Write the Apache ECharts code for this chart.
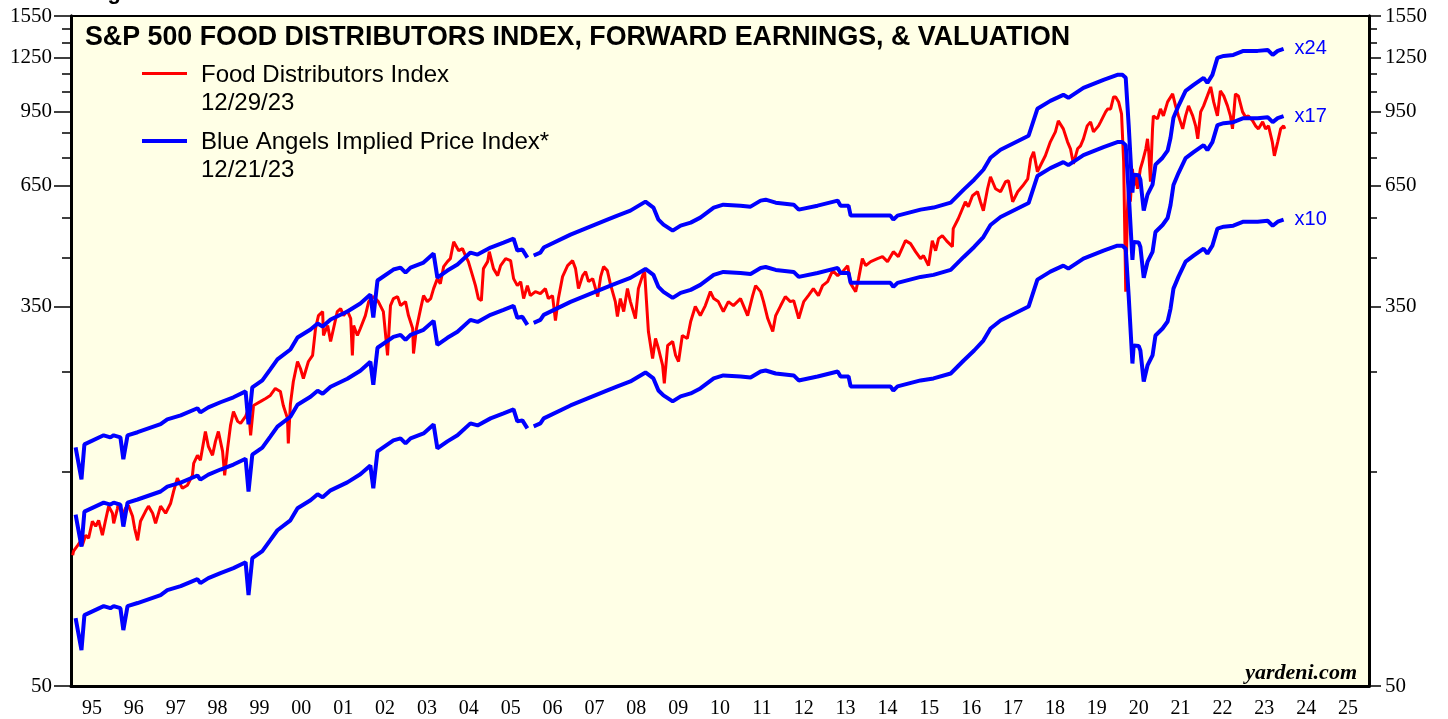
<!DOCTYPE html>
<html>
<head>
<meta charset="utf-8">
<title>S&amp;P 500 Food Distributors Index</title>
<script src="https://cdn.jsdelivr.net/npm/echarts@6/dist/echarts.min.js"></script>
<style>
  html, body { margin: 0; padding: 0; background: #fff; }
  #chart { width: 1448px; height: 719px; }
</style>
</head>
<body>
<div id="chart"></div>
<script>
// Food Distributors Index (dates as fractional years)
var priceDates = [
  1995.04,1995.06,1995.16,1995.23,1995.27,1995.35,1995.42,1995.51,1995.59,1995.66,1995.75,1995.82,1995.90,1995.99,
  1996.02,1996.11,1996.13,1996.23,1996.30,1996.37,1996.47,1996.52,1996.59,1996.66,1996.78,1996.85,1996.95,
  1997.02,1997.14,1997.26,1997.38,1997.45,1997.54,1997.66,1997.78,1997.90,1997.93,
  1998.02,1998.09,1998.21,1998.28,1998.38,1998.45,1998.52,1998.62,1998.67,1998.74,1998.81,1998.88,1998.98,
  1999.05,1999.17,1999.24,1999.29,1999.36,1999.53,1999.65,1999.76,1999.88,
  2000.00,2000.07,2000.17,2000.19,2000.24,2000.31,2000.41,2000.48,2000.55,2000.67,2000.77,2000.84,2000.91,
  2001.01,2001.03,2001.13,2001.20,2001.27,2001.36,2001.44,2001.51,2001.60,2001.68,2001.72,2001.75,2001.84,2001.91,
  2002.03,2002.11,2002.20,2002.27,2002.34,2002.46,2002.56,2002.63,2002.70,2002.80,2002.87,2002.99,
  2003.06,2003.16,2003.18,2003.25,2003.35,2003.42,2003.51,2003.59,2003.66,2003.75,2003.82,2003.90,2003.99,
  2004.06,2004.14,2004.18,2004.26,2004.35,2004.42,2004.49,2004.59,2004.66,2004.73,2004.80,2004.85,2004.95,2004.99,
  2005.09,2005.19,2005.26,2005.38,2005.50,2005.57,2005.66,2005.74,2005.81,2005.90,2005.97,
  2006.09,2006.21,2006.33,2006.40,2006.50,2006.57,2006.64,2006.74,2006.86,2006.98,
  2007.05,2007.12,2007.22,2007.29,2007.36,2007.46,2007.58,2007.65,2007.72,2007.81,2007.88,
  2008.00,2008.05,2008.12,2008.20,2008.29,2008.36,2008.48,2008.55,2008.65,2008.70,2008.74,2008.79,2008.89,2008.96,
  2009.03,2009.13,2009.17,2009.25,2009.37,2009.44,2009.51,2009.60,2009.72,2009.80,2009.91,
  2010.03,2010.15,2010.27,2010.35,2010.46,2010.58,2010.70,2010.82,2010.99,
  2011.16,2011.28,2011.35,2011.47,2011.54,2011.64,2011.76,2011.83,2011.95,
  2012.06,2012.18,2012.26,2012.38,2012.50,2012.61,2012.73,2012.85,2012.95,
  2013.07,2013.19,2013.31,2013.43,2013.55,2013.62,2013.74,2013.81,2013.90,2013.98,
  2014.10,2014.26,2014.38,2014.50,2014.64,2014.76,2014.93,
  2015.05,2015.17,2015.29,2015.36,2015.48,2015.57,2015.65,2015.72,2015.81,2015.93,
  2016.05,2016.07,2016.19,2016.29,2016.36,2016.43,2016.53,2016.65,2016.72,2016.79,2016.89,2016.96,
  2017.08,2017.20,2017.32,2017.39,2017.49,2017.61,2017.73,2017.85,2017.92,2017.99,
  2018.08,2018.15,2018.27,2018.39,2018.51,2018.58,2018.70,2018.80,2018.87,2018.94,
  2019.04,2019.11,2019.18,2019.27,2019.35,2019.42,2019.54,2019.59,2019.71,2019.76,2019.83,2019.90,2019.95,
  2020.02,2020.09,2020.11,2020.14,2020.19,2020.23,2020.26,2020.30,2020.35,2020.38,2020.43,2020.47,2020.54,2020.59,
  2020.67,2020.71,2020.74,2020.78,2020.83,2020.85,2020.95,
  2021.02,2021.09,2021.19,2021.31,2021.38,2021.45,2021.55,2021.62,2021.69,2021.79,2021.86,2021.91,2021.98,
  2022.05,2022.14,2022.22,2022.29,2022.38,2022.45,2022.53,2022.62,2022.69,2022.74,2022.81,2022.88,2022.98,
  2023.05,2023.12,2023.22,2023.29,2023.36,2023.46,2023.53,2023.60,2023.69,2023.74,2023.82,2023.89,2023.96,2023.99
];
var priceIndex = [
  97.7,99.8,102.8,105.0,102.8,108.3,106.6,116.3,113.4,116.9,108.3,116.3,125.7,121.2,
  115.1,124.3,127.6,119.9,124.3,126.3,119.3,112.2,105.5,116.3,122.4,125.7,121.2,
  115.1,125.7,121.2,127.6,135.6,145.0,137.7,139.9,147.2,156.5,
  163.1,159.0,184.3,170.8,163.1,175.2,184.3,166.4,147.2,169.0,190.2,204.2,194.1,
  192.1,199.1,207.4,180.6,210.6,215.0,218.3,221.7,229.8,
  226.3,210.6,197.1,173.4,212.0,238.1,263.8,254.5,241.8,263.8,272.1,312.4,333.8,
  340.7,301.4,317.2,292.3,312.4,340.7,346.0,333.8,342.5,328.8,272.1,317.2,301.4,312.4,
  333.8,358.6,367.9,364.2,358.6,340.7,272.1,351.4,364.2,367.9,351.4,358.6,
  333.8,312.4,274.9,312.4,346.0,369.8,358.6,364.2,383.3,403.4,393.2,429.0,440.1,
  446.9,487.5,490.1,465.6,470.4,453.8,440.1,409.7,389.2,364.2,360.5,424.6,440.1,463.2,
  424.6,409.7,431.2,446.9,442.3,403.4,389.2,397.2,364.2,389.2,369.8,
  377.4,373.6,383.3,364.2,369.8,325.4,364.2,407.6,431.2,442.3,
  424.6,383.3,409.7,418.1,397.2,403.4,367.9,407.6,429.0,420.3,393.2,
  358.6,332.1,364.2,340.7,383.3,358.6,328.8,383.3,409.7,418.1,364.2,307.6,267.9,296.8,
  282.0,258.5,235.7,286.4,292.3,272.1,263.8,301.4,296.8,323.8,349.6,
  333.8,351.4,377.4,364.2,358.6,340.7,358.6,351.4,364.2,
  333.8,369.8,389.2,377.4,358.6,328.8,307.6,333.8,351.4,
  367.9,358.6,360.5,328.8,358.6,369.8,383.3,369.8,389.2,
  397.2,420.3,409.7,418.1,431.2,393.2,377.4,403.4,446.9,431.2,
  440.1,446.9,451.5,440.1,463.2,451.5,490.1,
  482.6,463.2,446.9,453.8,431.2,490.1,465.6,495.1,502.8,487.5,
  475.3,521.1,548.4,577.2,598.3,583.2,617.0,629.7,598.3,571.3,639.5,680.0,
  639.5,629.7,662.7,666.1,598.3,629.7,649.3,673.0,745.6,772.7,
  697.6,719.4,757.1,813.3,856.0,905.6,869.3,813.3,784.7,726.7,
  784.7,796.8,825.9,882.7,900.9,856.0,882.7,900.9,948.2,962.9,962.9,1023.9,1023.9,
  998.0,938.5,929.0,734.2,377.4,568.4,662.7,598.3,708.4,649.3,683.5,639.5,708.4,734.2,
  784.7,825.9,772.7,662.7,869.3,929.0,914.9,
  962.9,929.0,998.0,1039.7,977.8,929.0,869.3,929.0,977.8,929.0,882.7,825.9,948.2,
  977.8,1029.2,1077.7,998.0,929.0,1055.8,1029.2,977.8,929.0,869.3,1039.7,1029.2,948.2,
  924.3,929.0,905.6,882.7,869.3,900.9,869.3,882.7,813.3,757.1,813.3,869.3,882.7,869.3
];

// forward earnings; the Blue Angels bands are earnings x multiple (null = data gap)
var fwdDates = [
  1995.11,1995.25,1995.32,1995.78,1995.94,1996.02,1996.18,1996.25,1996.35,1996.59,
  1997.14,1997.30,1997.62,1998.02,1998.09,1998.28,1998.57,1998.88,
  1999.17,1999.24,1999.33,1999.57,1999.76,1999.93,2000.24,2000.41,2000.72,2000.89,
  2001.01,2001.20,2001.60,2001.91,2002.15,2002.22,2002.32,2002.70,2002.87,2002.99,
  2003.11,2003.42,2003.66,2003.75,2003.99,2004.23,2004.54,2004.71,
  2005.02,2005.33,2005.57,2005.66,2005.78,2005.90,2005.98,2006.05,2006.21,2006.29,2006.93,
  2007.34,2007.81,2008.05,2008.36,2008.72,2008.91,2009.03,2009.15,2009.37,2009.56,2009.80,
  2010.03,2010.35,2010.58,2010.99,2011.23,2011.47,2011.59,2011.83,2012.26,2012.38,2012.83,
  2013.31,2013.38,2013.57,2013.62,2014.10,2014.57,2014.64,2014.74,2015.29,2015.60,
  2016.01,2016.32,2016.57,2016.79,2016.96,2017.20,2017.87,2018.08,2018.39,2018.70,2018.82,
  2019.18,2019.66,2019.99,2020.11,2020.19,2020.26,2020.35,2020.38,2020.50,2020.54,2020.62,
  2020.71,2020.83,2020.90,2021.07,2021.19,2021.26,2021.33,2021.45,2021.62,2021.81,
  2022.05,2022.14,2022.26,2022.38,2022.53,2022.76,2023.00,2023.34,2023.58,2023.70,2023.82,2023.96
];
var fwdEarnings = [
  7.08,6.01,7.19,7.53,7.45,7.53,7.45,6.66,7.53,7.65,
  7.97,8.17,8.34,8.65,8.47,8.69,8.92,9.15,
  9.43,7.97,9.63,9.98,10.56,11.11,11.69,12.43,12.95,13.36,
  13.15,13.63,14.20,14.80,15.49,13.77,16.65,17.61,17.79,17.34,
  17.79,18.25,19.11,16.90,17.52,18.07,19.21,19.01,
  19.71,20.22,20.64,19.41,19.51,18.72,null,18.92,19.21,19.71,21.06,
  21.83,22.74,23.22,23.82,24.94,24.19,22.74,22.17,21.50,22.06,22.40,
  22.98,24.19,24.56,24.43,24.31,25.07,25.19,24.81,24.56,23.94,24.43,
  25.07,24.43,24.43,23.22,23.22,23.22,22.74,23.22,23.94,24.19,
  24.81,26.52,27.91,29.37,31.24,32.54,34.96,40.14,41.81,43.12,42.46,
  44.69,46.56,47.77,47.77,47.04,36.98,26.11,28.63,28.55,27.91,23.82,
  25.85,27.21,30.14,31.24,32.38,34.60,38.33,40.76,44.01,45.38,
  47.04,45.85,47.77,52.11,52.64,52.91,54.01,54.01,54.28,52.91,54.01,54.56
];
var multiples = [24, 17, 10];

var yearLabels = ['95','96','97','98','99','00','01','02','03','04','05','06','07','08','09','10',
  '11','12','13','14','15','16','17','18','19','20','21','22','23','24','25'];
var labelValues = [50, 350, 650, 950, 1250, 1550];
var tickValues = [50, 150, 250, 350, 450, 550, 650, 750, 850, 950, 1050, 1150, 1250, 1350, 1450, 1550];

var chart = echarts.init(document.getElementById('chart'));

// log scale: series are plotted as ln(value)
var lnMin = Math.log(50);
var lnMax = Math.log(1550);

function yAxisDef(position, values, tickLen, showLabel, margin) {
  return {
    type: 'value',
    position: position,
    min: lnMin,
    max: lnMax,
    axisLine: { show: true, lineStyle: { color: '#000', width: 3 } },
    axisTick: {
      show: true,
      customValues: values.map(function (v) { return Math.log(v); }),
      length: tickLen,
      lineStyle: { color: '#000', width: 1.5 }
    },
    axisLabel: {
      show: showLabel,
      customValues: values.map(function (v) { return Math.log(v); }),
      formatter: function (v) { return String(Math.round(Math.exp(v))); },
      fontFamily: 'Liberation Serif',
      fontSize: 21,
      color: '#000',
      margin: margin
    },
    splitLine: { show: false }
  };
}

var bandSeries = multiples.map(function (m) {
  return {
    name: 'x' + m,
    type: 'line',
    xAxisIndex: 0,
    yAxisIndex: 0,
    symbol: 'none',
    z: 3,
    lineStyle: { color: '#0000FF', width: 4 },
    data: fwdDates.map(function (d, i) {
      var e = fwdEarnings[i];
      return [d, e == null ? null : Math.log(e * m)];
    }),
    endLabel: {
      show: true,
      formatter: 'x' + m,
      color: '#0000FF',
      fontFamily: 'Liberation Sans',
      fontSize: 20,
      distance: 11
    }
  };
});

var option = {
  animation: false,
  backgroundColor: '#fff',
  grid: {
    left: 71, right: 79, top: 16, bottom: 31,
    show: true,
    backgroundColor: '#FFFFE6',
    borderColor: '#000',
    borderWidth: 2
  },
  xAxis: [
    { type: 'value', min: 1995, max: 2026, show: false },
    {
      type: 'category',
      data: yearLabels,
      position: 'bottom',
      boundaryGap: true,
      axisLine: { lineStyle: { color: '#000', width: 3 } },
      axisTick: { interval: 0, length: 12, lineStyle: { color: '#000', width: 2 } },
      axisLabel: { interval: 0, margin: 13, fontFamily: 'Liberation Serif', fontSize: 20, color: '#000' },
      splitLine: { show: false }
    }
  ],
  yAxis: [
    yAxisDef('left', labelValues, 17, true, 19),
    yAxisDef('left', tickValues, 9, false, 19),
    yAxisDef('right', labelValues, 12, true, 16),
    yAxisDef('right', tickValues, 8, false, 16)
  ],
  series: [
    {
      name: 'Food Distributors Index',
      type: 'line',
      xAxisIndex: 0,
      yAxisIndex: 0,
      symbol: 'none',
      z: 2,
      lineStyle: { color: '#FF0000', width: 3 },
      data: priceDates.map(function (d, i) { return [d, Math.log(priceIndex[i])]; })
    }
  ].concat(bandSeries),
  graphic: [
    { type: 'text', x: 88, y: -7, style: { text: 'Figure 6.', font: 'bold 22px "Liberation Sans"', fill: '#000', verticalAlign: 'middle' } },
    { type: 'text', x: 85, y: 37.5, z: 10, style: { text: 'S&P 500 FOOD DISTRIBUTORS INDEX, FORWARD EARNINGS, & VALUATION', font: 'bold 26.8px "Liberation Sans"', fill: '#000', verticalAlign: 'middle' } },
    { type: 'line', z: 10, shape: { x1: 142, y1: 73.5, x2: 187, y2: 73.5 }, style: { stroke: '#FF0000', lineWidth: 3 } },
    { type: 'text', x: 201, y: 75, z: 10, style: { text: 'Food Distributors Index', font: '24px "Liberation Sans"', fill: '#000', verticalAlign: 'middle' } },
    { type: 'text', x: 201, y: 103, z: 10, style: { text: '12/29/23', font: '24px "Liberation Sans"', fill: '#000', verticalAlign: 'middle' } },
    { type: 'line', z: 10, shape: { x1: 142, y1: 141, x2: 187, y2: 141 }, style: { stroke: '#0000FF', lineWidth: 4 } },
    { type: 'text', x: 201, y: 142, z: 10, style: { text: 'Blue Angels Implied Price Index*', font: '24px "Liberation Sans"', fill: '#000', verticalAlign: 'middle' } },
    { type: 'text', x: 201, y: 170, z: 10, style: { text: '12/21/23', font: '24px "Liberation Sans"', fill: '#000', verticalAlign: 'middle' } },
    { type: 'text', x: 1357, y: 673, z: 10, style: { text: 'yardeni.com', font: 'italic bold 22px "Liberation Serif"', fill: '#000', align: 'right', verticalAlign: 'middle' } }
  ]
};

chart.setOption(option);
</script>
</body>
</html>
